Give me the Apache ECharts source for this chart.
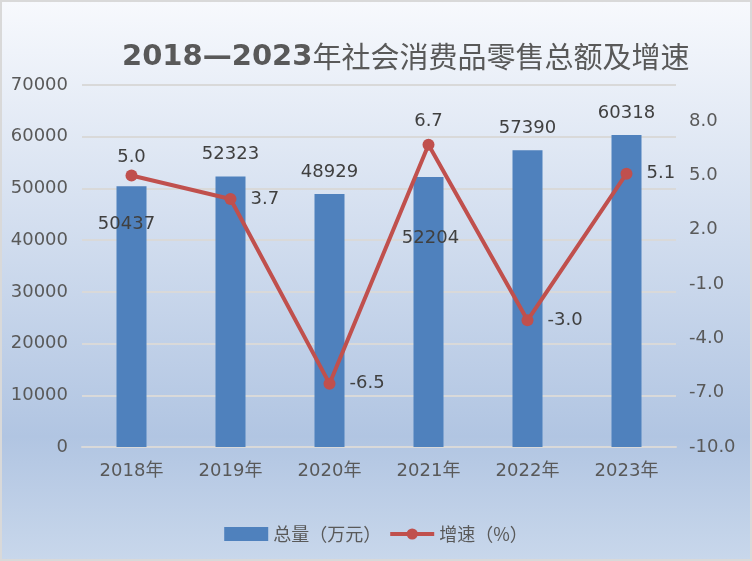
<!DOCTYPE html>
<html>
<head>
<meta charset="utf-8">
<title>2018—2023年社会消费品零售总额及增速</title>
<script src="https://cdn.jsdelivr.net/npm/echarts@6/dist/echarts.min.js"></script>
<style>
  html, body { margin: 0; padding: 0; background: #d9d9d9; }
  #main { position: absolute; left: 2px; top: 2px; width: 748px; height: 557px; }
</style>
</head>
<body>
<div id="main"></div>
<script>
// 数据
var years = ['2018年', '2019年', '2020年', '2021年', '2022年', '2023年'];
var totals = [50437, 52323, 48929, 52204, 57390, 60318];   // 总量（万元）
var growth = [5.0, 3.7, -6.5, 6.7, -3.0, 5.1];              // 增速（%）

// 标签位置（跟原图对应）
var barLabelPos = ['in', 'top', 'top', 'in', 'top', 'top'];
var lineLabelPos = ['top', 'right', 'right', 'top', 'right', 'right'];

var font = "'DejaVu Sans', 'Noto Sans CJK SC', sans-serif";
var cjk = "'Noto Sans CJK SC', sans-serif";

var barData = totals.map(function (v, i) {
    if (barLabelPos[i] == 'in') {
        return {
            value: v,
            label: { position: 'insideTop', distance: i == 0 ? 29 : 52, offset: [i == 0 ? -5 : 2, 0] }
        };
    }
    return { value: v };
});
var lineData = growth.map(function (v, i) {
    var d = lineLabelPos[i] == 'top' ? (i == 0 ? 3 : 8) : 14;
    return { value: v, label: { position: lineLabelPos[i], distance: d } };
});

var myChart = echarts.init(document.getElementById('main'));
var option = {
    backgroundColor: {
        type: 'linear', x: 0, y: 0, x2: 0, y2: 1,
        colorStops: [
            { offset: 0, color: '#f7f9fd' },
            { offset: 0.78, color: '#b1c5e2' },
            { offset: 1, color: '#c8d7eb' }
        ]
    },
    title: {
        text: '{a|2018—2023}{b|年社会消费品零售总额及增速}',
        left: 115,
        top: 33,
        textStyle: {
            rich: {
                a: { fontFamily: font, fontSize: 29, fontWeight: 'bold', color: '#595959', lineHeight: 34 },
                b: { fontFamily: cjk, fontSize: 29, fontWeight: 'normal', color: '#595959', lineHeight: 34 }
            }
        }
    },
    legend: {
        top: 518,
        left: 'center',
        itemWidth: 44,
        itemHeight: 14,
        itemGap: 7,
        textStyle: { fontFamily: cjk, fontSize: 18, color: '#595959' },
        data: [
            { name: '总量（万元）', icon: 'rect', itemStyle: { borderWidth: 0 } },
            { name: '增速（%）', lineStyle: { width: 4 } }
        ]
    },
    grid: { left: 80, right: 74, top: 83, bottom: 112 },
    xAxis: {
        type: 'category',
        data: years,
        axisLine: { show: true, lineStyle: { color: '#d9d9d9', width: 2 } },
        axisTick: { show: false },
        axisLabel: { fontFamily: font, fontSize: 18, color: '#595959', margin: 15 }
    },
    yAxis: [
        {
            type: 'value',
            min: 0,
            max: 70000,
            interval: 10000,
            axisLine: { show: false },
            axisTick: { show: false },
            axisLabel: {
                fontFamily: font, fontSize: 18, color: '#595959', margin: 14,
                formatter: function (v) { return String(v); }
            },
            splitLine: { show: true, lineStyle: { color: '#d9d9d9', width: 2 } }
        },
        {
            type: 'value',
            min: -10,
            max: 10,
            interval: 3,
            axisLine: { show: false },
            axisTick: { show: false },
            splitLine: { show: false },
            axisLabel: {
                fontFamily: font, fontSize: 18, color: '#595959', margin: 13,
                showMaxLabel: false,
                formatter: function (v) { return v.toFixed(1); }
            }
        }
    ],
    series: [
        {
            name: '总量（万元）',
            type: 'bar',
            barWidth: 30,
            itemStyle: { color: '#4f81bd' },
            label: {
                show: true,
                position: 'top',
                distance: 13,
                fontFamily: font,
                fontSize: 18,
                color: '#404040'
            },
            data: barData
        },
        {
            name: '增速（%）',
            type: 'line',
            yAxisIndex: 1,
            symbol: 'circle',
            symbolSize: 12,
            lineStyle: { color: '#c0504d', width: 4 },
            itemStyle: { color: '#c0504d' },
            label: {
                show: true,
                fontFamily: font,
                fontSize: 18,
                color: '#404040',
                formatter: function (p) { return p.value.toFixed(1); }
            },
            data: lineData
        }
    ]
};
myChart.setOption(option);
</script>
</body>
</html>
